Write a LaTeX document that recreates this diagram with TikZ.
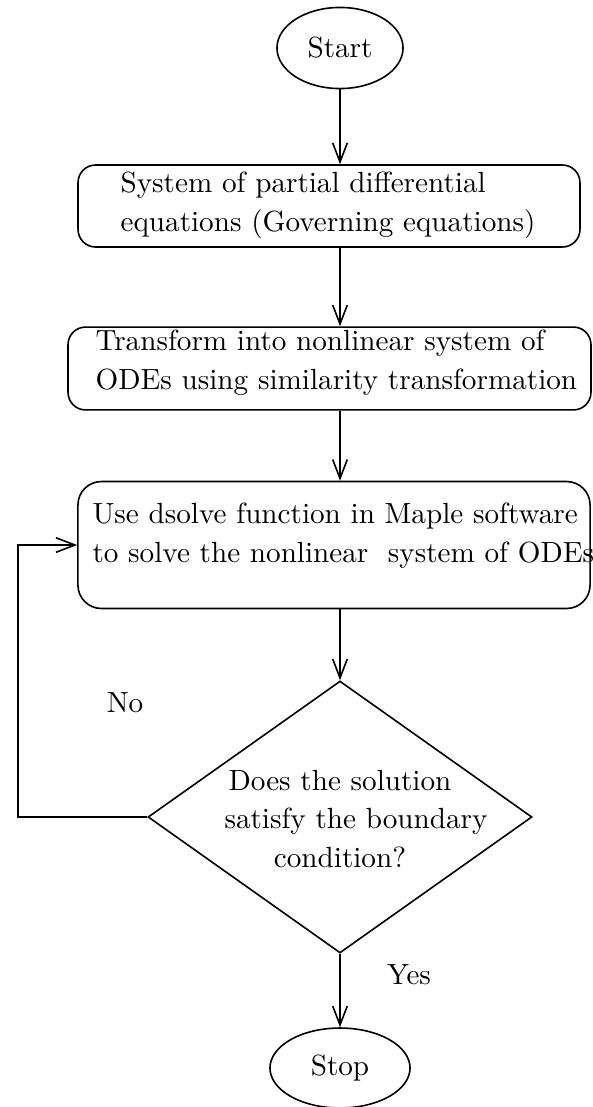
\documentclass[tikz,border=0pt]{standalone}
\usetikzlibrary{shapes.geometric,arrows.meta}
\begin{document}
\begin{tikzpicture}[x=0.3427pt,y=-0.3427pt,
  every node/.style={font=\fontsize{10}{13.3}\selectfont},
  term/.style={draw,ellipse,line width=0.55pt,inner sep=0pt},
  procbox/.style={draw,rectangle,rounded corners=6pt,line width=0.55pt,inner sep=0pt},
  decision/.style={draw,diamond,line width=0.55pt,inner sep=0pt},
  lbl/.style={align=left,inner sep=0pt,anchor=west},
  arr/.style={-{Straight Barb[length=6.5pt,width=5pt]},line width=0.55pt}]
\useasboundingbox (0,0) rectangle (592,1107);
\node[term,minimum width=43.2pt,minimum height=27.8pt] (start) at (340,48) {Start};
\node[procbox,minimum width=172pt,minimum height=28.1pt] (b1) at (329,206) {};
\node[lbl] (t1) at (120,205) {System of partial differential\\equations (Governing equations)};
\node[procbox,minimum width=179.2pt,minimum height=28.4pt] (b2) at (329.5,368.5) {};
\node[lbl] (t2) at (95,363) {Transform into nonlinear system of\\ODEs using similarity transformation};
\node[procbox,rounded corners=8pt,minimum width=175.5pt,minimum height=43.5pt] (b3) at (334,545) {};
\node[lbl] (t3) at (92,536) {Use dsolve function in Maple software\\to solve the nonlinear\ \ system of ODEs};
\node[decision,minimum width=131.6pt,minimum height=93.2pt] (dec) at (340,817) {};
\node[align=center,inner sep=0pt] (tq) at (340,819) {Does the solution\\\hspace*{11pt}satisfy the boundary\\condition?};
\node[term,minimum width=48pt,minimum height=27.4pt] (stop) at (340,1068) {Stop};
\node (no) at (125,703) {No};
\node (yes) at (409,975) {Yes};
\draw[arr] (start.south) -- (b1.north -| start.south);
\draw[arr] (b1.south -| dec.north) -- (b2.north -| dec.north);
\draw[arr] (b2.south -| dec.north) -- (b3.north -| dec.north);
\draw[arr] (b3.south -| dec.north) -- (dec.north);
\draw[arr] (dec.south) -- (stop.north);
\coordinate (lp) at (18,817);
\draw[arr] (dec.west) -- (lp) |- (b3.west);
\end{tikzpicture}
\end{document}
